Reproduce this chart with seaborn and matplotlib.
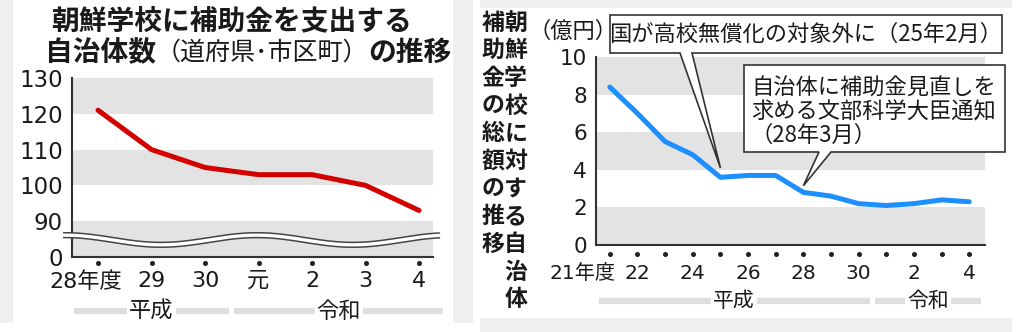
import numpy as np
import pandas as pd
import matplotlib
matplotlib.use("Agg")
import matplotlib.pyplot as plt
import seaborn as sns
from matplotlib.patches import Rectangle, Polygon
from matplotlib.transforms import blended_transform_factory as btf, ScaledTranslation

# ---------------- data ----------------
left_title_1 = "朝鮮学校に補助金を支出する"
left_title_2 = ["自治体数", "（道府県･市区町）", "の推移"]
left_years = ["28年度", "29", "30", "元", "2", "3", "4"]
left_counts = [121, 110, 105, 103, 103, 100, 93]
left_ytick_values = [80, 90, 100, 110, 120, 130]
left_ytick_labels = ["0", "90", "100", "110", "120", "130"]
left_eras = ["平成", "令和"]
left_era_lengths = [3, 4]

right_title_cols = ["朝鮮学校に対する自治体", "補助金の総額の推移"]
right_unit = "（億円）"
right_years = ["21年度", "22", "23", "24", "25", "26", "27", "28", "29", "30", "元", "2", "3", "4"]
right_year_shown = ["21年度", "22", "", "24", "", "26", "", "28", "", "30", "", "2", "", "4"]
right_amounts = [8.4, 7.0, 5.5, 4.8, 3.6, 3.7, 3.7, 2.8, 2.6, 2.2, 2.1, 2.2, 2.4, 2.3]
right_yticks = [0, 2, 4, 6, 8, 10]
right_eras = ["平成", "令和"]
right_era_lengths = [10, 4]
note1_text = "国が高校無償化の対象外に（25年2月）"
note1_xy = (4, 4.1)
note2_lines = ["自治体に補助金見直しを", "求める文部科学大臣通知", "（28年3月）"]
note2_xy = (7, 3.15)

# ---------------- setup ----------------
W, H, DPI = 1023, 332, 100
sns.set_theme(style="white")
CJK = ['Noto Sans CJK JP', 'DejaVu Sans']
NUM = ['DejaVu Sans', 'Noto Sans CJK JP']
plt.rcParams['font.family'] = CJK
fig = plt.figure(figsize=(W / DPI, H / DPI), dpi=DPI, facecolor='white')

AX = '#333333'
BAND = '#e3e3e3'
BG = '#efefef'
TXT = '#1a1a1a'


def F(x, y):
    return (x / W, 1 - y / H)


for (x0, y0, x1, y1) in [(0, 0, 13, 323), (453, 0, 473, 323), (480, 0, 1012, 8), (480, 318, 1012, 332)]:
    fig.add_artist(Rectangle(F(x0, y1), (x1 - x0) / W, (y1 - y0) / H, transform=fig.transFigure,
                             fc=BG, ec='none', zorder=-10))


def make_axes(x0, x1, ytop, ybot):
    ax = fig.add_axes([x0 / W, 1 - ybot / H, (x1 - x0) / W, (ybot - ytop) / H])
    ax.set_facecolor('none')
    return ax


def style_axes(ax):
    sns.despine(ax=ax)
    for s in ('left', 'bottom'):
        ax.spines[s].set_color(AX)
        ax.spines[s].set_linewidth(1.5)
    ax.set_xlabel('')
    ax.set_ylabel('')


def unit_px(ax):
    return ax.transData.transform((1, 0))[0] - ax.transData.transform((0, 0))[0]


def draw_eras(ax, names, lengths, yax, fs):
    tr = btf(ax.transData, ax.transAxes)
    gap = 2.5 / unit_px(ax)
    start = -0.5
    for name, n in zip(names, lengths):
        a, b = start, start + n
        ax.plot([a + gap, b - gap], [yax, yax], color='#dedede', lw=4.5, transform=tr,
                clip_on=False, solid_capstyle='butt', zorder=3)
        ax.text((a + b) / 2, yax, name, transform=tr, ha='center', va='center', fontsize=fs,
                color=TXT, bbox=dict(fc='white', ec='none', pad=1.5), zorder=4, clip_on=False)
        start = b


def shift_first_label(ax, dx_px):
    lab = ax.get_xticklabels()[0]
    lab.set_transform(lab.get_transform() + ScaledTranslation(dx_px / DPI, 0, fig.dpi_scale_trans))


def num_font(ax):
    for lab in ax.get_xticklabels() + ax.get_yticklabels():
        lab.set_fontfamily(NUM)


# ---------------- left chart ----------------
ax1 = make_axes(72, 433, 78, 257)
df1 = pd.DataFrame({"i": np.arange(len(left_years)), "v": left_counts})
sns.lineplot(data=df1, x="i", y="v", ax=ax1, color='#d40000', lw=3.6, solid_capstyle='round', zorder=4)
ax1.set_xlim(-0.486, 6.26)
ax1.set_ylim(80, 130)
for lo in (80, 100, 120):
    ax1.axhspan(lo, lo + 10, color=BAND, lw=0, zorder=0)
style_axes(ax1)
ax1.set_yticks(left_ytick_values, left_ytick_labels)
ax1.tick_params(axis='y', length=5, width=1.2, color=AX, pad=1.5, labelsize=16.5, labelcolor=TXT)
ax1.set_xticks(df1["i"], left_years)
ax1.tick_params(axis='x', length=0, pad=10, labelsize=16, labelcolor=TXT)
num_font(ax1)
shift_first_label(ax1, -12)
ax1.plot(df1["i"], np.full(len(df1), -6 / 179), 'o', ms=2.6, color='#222',
         transform=btf(ax1.transData, ax1.transAxes), clip_on=False)
# axis break wave
xs_px = np.linspace(63, 440, 300)
wave_y = 84.75 + 1.35 * np.cos(2 * np.pi * (xs_px - 65) / 192)
xs_ax = (xs_px - 72) / 361
trw = btf(ax1.transAxes, ax1.transData)
ax1.plot(xs_ax, wave_y, color='#444', lw=4.6, transform=trw, clip_on=False, zorder=6, solid_capstyle='butt')
ax1.plot(xs_ax, wave_y, color='white', lw=2.4, transform=trw, clip_on=False, zorder=7, solid_capstyle='butt')
draw_eras(ax1, left_eras, left_era_lengths, -0.302, 16)

# left title
fig.text(232 / W, 1 - 21 / H, left_title_1, ha='center', va='center', fontsize=20, fontweight='bold', color=TXT)
r = fig.canvas.get_renderer()
pieces = []
for k, p in enumerate(left_title_2):
    t = fig.text(0, 1 - 53 / H, p, ha='left', va='center', fontsize=20 if k != 1 else 18,
                 fontweight='bold' if k != 1 else 'normal', color=TXT)
    pieces.append(t)
widths = [t.get_window_extent(r).width for t in pieces]
x = 248 - sum(widths) / 2
for t, w in zip(pieces, widths):
    t.set_x(x / W)
    x += w

# ---------------- right chart ----------------
ax2 = make_axes(596, 985, 57, 245)
df2 = pd.DataFrame({"i": np.arange(len(right_years)), "v": right_amounts})
sns.lineplot(data=df2, x="i", y="v", ax=ax2, color='#1e8fff', lw=3.6, solid_capstyle='round', zorder=4)
ax2.set_xlim(-0.5, 13.57)
ax2.set_ylim(0, 10)
for lo in (0, 4, 8):
    ax2.axhspan(lo, lo + 2, color=BAND, lw=0, zorder=0)
style_axes(ax2)
ax2.set_yticks(right_yticks)
ax2.tick_params(axis='y', length=5, width=1.2, color=AX, pad=1.5, labelsize=15.5, labelcolor=TXT)
ax2.set_xticks(df2["i"], right_year_shown)
ax2.tick_params(axis='x', length=0, pad=14, labelsize=14.5, labelcolor=TXT)
num_font(ax2)
shift_first_label(ax2, -27)
ax2.plot(df2["i"], np.full(len(df2), -9 / 188), 'o', ms=2.6, color='#222',
         transform=btf(ax2.transData, ax2.transAxes), clip_on=False)
draw_eras(ax2, right_eras, right_era_lengths, -0.298, 15)

fig.text(573 / W, 1 - 31.7 / H, right_unit, ha='center', va='center', fontsize=16, color=TXT)
for col, xc in zip(right_title_cols, (515.6, 492.8)):
    for k, ch in enumerate(col):
        fig.text(xc / W, 1 - (23 + 27.7 * k) / H, ch, ha='center', va='center', fontsize=16.5,
                 fontweight='bold', color=TXT)


def callout(box, base, tip_xy, ax):
    x0, y0, x1, y1 = box
    bl, br = base
    tip = fig.transFigure.inverted().transform(ax.transData.transform(tip_xy))
    pts = [F(x0, y0), F(x1, y0), F(x1, y1), F(br, y1), tuple(tip), F(bl, y1), F(x0, y1)]
    fig.add_artist(Polygon(pts, closed=True, fc='white', ec='#333', lw=1.2, zorder=10,
                           transform=fig.transFigure, joinstyle='miter'))


callout((610, 15, 1002, 53), (680, 692), note1_xy, ax2)
callout((744, 65, 1005, 152), (819, 831), note2_xy, ax2)
fig.text(806 / W, 1 - 34 / H, note1_text, ha='center', va='center', fontsize=16, color=TXT, zorder=11)
for k, line in enumerate(note2_lines):
    fig.text(751 / W, 1 - (88 + 23.5 * k) / H, line, ha='left', va='center', fontsize=16, color=TXT, zorder=11)

fig.savefig('out.png', dpi=DPI, facecolor='white')
